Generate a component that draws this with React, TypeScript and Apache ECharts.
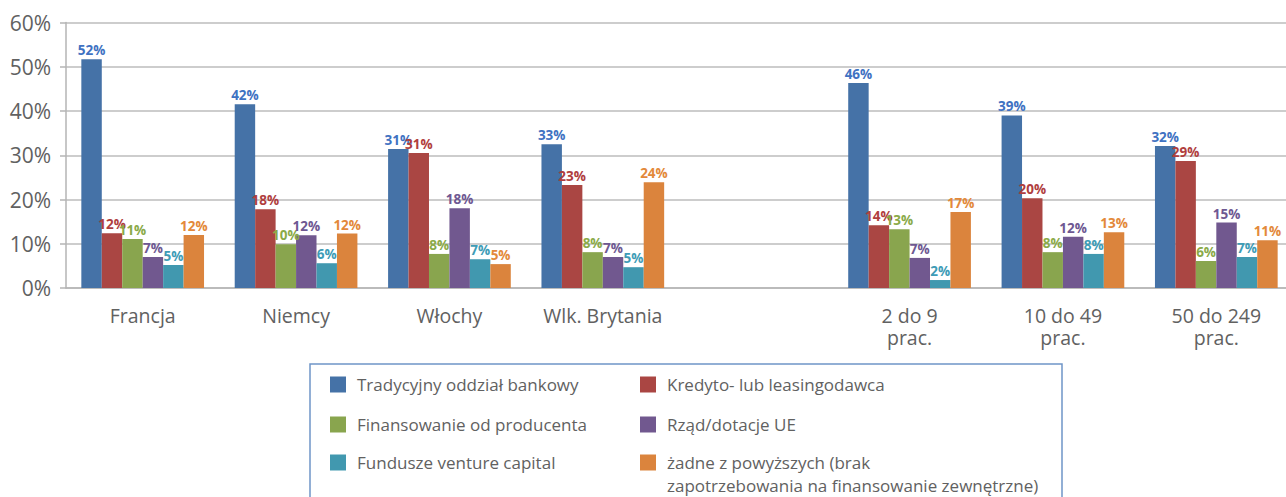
import React, { useEffect, useRef } from "react";
import * as echarts from "echarts";

const categories = ["Francja", "Niemcy", "Włochy", "Wlk. Brytania", "", "2 do 9\nprac.", "10 do 49\nprac.", "50 do 249\nprac."];
const yTicks = [0, 10, 20, 30, 40, 50, 60];

const seriesNames = [
  "Tradycyjny oddział bankowy",
  "Kredyto- lub leasingodawca",
  "Finansowanie od producenta",
  "Rząd/dotacje UE",
  "Fundusze venture capital",
  "żadne z powyższych (brak zapotrzebowania na finansowanie zewnętrzne)",
];

const bankowy = [51.7, 41.5, 31.4, 32.5, null, 46.3, 39.0, 32.1];
const leasing = [12.4, 17.8, 30.5, 23.3, null, 14.2, 20.3, 28.7];
const producent = [11.1, 9.9, 7.7, 8.1, null, 13.3, 8.1, 6.1];
const dotacje = [7.0, 11.9, 18.0, 7.0, null, 6.8, 11.6, 14.8];
const venture = [5.2, 5.6, 6.5, 4.7, null, 1.8, 7.7, 7.0];
const zadne = [12.0, 12.3, 5.4, 23.9, null, 17.2, 12.6, 10.8];

const seriesData = [bankowy, leasing, producent, dotacje, venture, zadne];
const barColors = ["#4572A7", "#AA4643", "#89A54E", "#71588F", "#4198AF", "#DB843D"];
const labelColors = ["#3F72C2", "#B03E3E", "#8AAA48", "#6E5892", "#3E9CB6", "#E3893A"];

const legendPos = [
  { left: 330, top: 376 },
  { left: 640, top: 376 },
  { left: 330, top: 416 },
  { left: 640, top: 416 },
  { left: 330, top: 454 },
  { left: 640, top: 454 },
];

const FONT = "'Open Sans', 'Noto Sans', sans-serif";
const TEXT = "#616161";

export default function App() {
  const ref = useRef<HTMLDivElement>(null);
  useEffect(() => {
    if (!ref.current) return;
    const chart = echarts.init(ref.current, undefined, { renderer: "svg" });
    const option: any = {
      animation: false,
      backgroundColor: "#ffffff",
      textStyle: { fontFamily: FONT },
      grid: { left: 66, top: 22.5, width: 1227, height: 265.5, containLabel: false, outerBoundsMode: "none" },
      xAxis: {
        type: "category",
        data: categories,
        axisLine: { show: true, lineStyle: { color: "#b5b5b5", width: 1.5 } },
        axisTick: { show: false },
        axisLabel: { color: TEXT, fontSize: 19.5, lineHeight: 22, margin: 16, fontFamily: FONT, interval: 0 },
      },
      yAxis: {
        type: "value",
        min: 0,
        max: 60,
        interval: 10,
        axisLine: { show: true, lineStyle: { color: "#b5b5b5", width: 1.5 } },
        axisTick: { show: true, length: 6, lineStyle: { color: "#b5b5b5", width: 1.5 } },
        splitLine: { show: true, lineStyle: { color: "#bdbdbd", width: 1.5 } },
        axisLabel: {
          color: TEXT,
          fontSize: 21,
          margin: 15,
          fontFamily: FONT,
          formatter: (v: number) => (yTicks.includes(v) ? v + "%" : ""),
        },
      },
      legend: seriesNames.map((name, i) => ({
        data: [name],
        left: legendPos[i].left,
        top: legendPos[i].top,
        orient: "horizontal",
        padding: 0,
        itemWidth: 16,
        itemHeight: 16,
        icon: "rect",
        selectedMode: false,
        formatter: (n: string) => (n.startsWith("żadne") ? "żadne z powyższych (brak" : n),
        textStyle: { color: TEXT, fontSize: 17, fontFamily: FONT, padding: [0, 0, 0, 6] },
      })),
      graphic: [
        {
          type: "rect",
          shape: { x: 310, y: 364, width: 752, height: 150 },
          style: { fill: "none", stroke: "#6f95c8", lineWidth: 1.5 },
          z: -1,
        },
        {
          type: "text",
          x: 667,
          y: 485,
          style: {
            text: "zapotrzebowania na finansowanie zewnętrzne)",
            fill: TEXT,
            fontSize: 17,
            fontFamily: FONT,
            verticalAlign: "middle",
          },
        },
      ],
      series: seriesNames.map((name, i) => ({
        name,
        type: "bar",
        data: seriesData[i],
        barGap: "0%",
        barCategoryGap: "20%",
        itemStyle: { color: barColors[i] },
        label: {
          show: true,
          position: "top",
          distance: 2,
          color: labelColors[i],
          fontSize: 13.5,
          fontWeight: "bold",
          fontFamily: FONT,
          formatter: (p: any) => (p.value == null ? "" : Math.round(p.value) + "%"),
        },
      })),
    };
    chart.setOption(option);
    return () => chart.dispose();
  }, []);
  return <div ref={ref} style={{ position: "absolute", left: 0, top: 0, width: 1286, height: 497 }} />;
}
